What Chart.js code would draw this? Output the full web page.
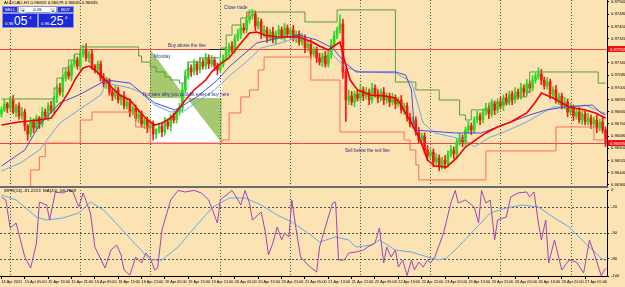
<!DOCTYPE html>
<html><head><meta charset="utf-8">
<script src="https://cdn.jsdelivr.net/npm/chart.js@4.4.1/dist/chart.umd.min.js"></script>
<style>
html,body{margin:0;padding:0;}
body{width:625px;height:287px;position:relative;overflow:hidden;background:#FCE3B4;font-family:"Liberation Sans",Arial,sans-serif;}
canvas{position:absolute;left:0;}
#c1{top:0}
#c2{top:187px}
#sep{position:absolute;left:0;top:186px;width:608px;height:2px;background:#6b6b6b;}
#title{position:absolute;left:4px;top:0px;font-size:4.4px;color:#000;white-space:nowrap;line-height:6px;}
#subt{position:absolute;left:4px;top:188px;font-size:4.4px;color:#000;white-space:nowrap;line-height:6px;}
#ocp{position:absolute;left:2px;top:6px;width:72px;height:22px;}
.b{position:absolute;box-sizing:border-box;color:#fff;font-size:4.4px;text-align:center;line-height:6px;height:7px;background:#2A36CC;border:0.5px solid #8d94e6;}
.lot{position:absolute;box-sizing:border-box;background:#fff;height:7px;font-size:4.4px;line-height:6px;text-align:center;color:#000;border:0.5px solid #8d94e6;}
.ar{position:absolute;top:0.5px;width:5px;height:5px;background:#ddd;font-size:4px;line-height:5px;color:#333;}
.pb{position:absolute;box-sizing:border-box;height:15px;background:#1C2AD6;color:#fff;border:0.5px solid #8d94e6;}
.pb .s{position:absolute;left:2px;top:7px;font-size:4.4px;line-height:5px;}
.pb .g{position:absolute;left:11px;top:1px;font-size:12px;line-height:12px;}
.pb .u{position:absolute;left:26px;top:1px;font-size:4.4px;line-height:5px;}
</style></head><body>
<canvas id="c1" width="625" height="187"></canvas>
<canvas id="c2" width="625" height="100"></canvas>
<div id="sep"></div>
<div id="title">AUDCAD,H1 0.96655 0.96679 0.96605 0.96635</div>
<div id="ocp">
  <div class="b" style="left:0;top:0;width:16px;">SELL</div>
  <div class="lot" style="left:16px;top:0;width:39px;"><span class="ar" style="left:1px">▾</span>0.05<span class="ar" style="right:1px">▴</span></div>
  <div class="b" style="left:55px;top:0;width:17px;">BUY</div>
  <div class="pb" style="left:0;top:7px;width:36px;"><span class="s">0.96</span><span class="g">05</span><span class="u">4</span></div>
  <div class="pb" style="left:36px;top:7px;width:36px;"><span class="s">0.96</span><span class="g">25</span><span class="u">4</span></div>
</div>
<div id="subt">WPR(14) -91.2223 &nbsp;MA(20) -58.7868</div>
<script>
// ---------- DATA ----------
const timeLabels = ["14 Apr 2021","15 Apr 05:00","15 Apr 13:00","15 Apr 21:00","16 Apr 05:00","16 Apr 13:00","16 Apr 21:00","19 Apr 05:00","19 Apr 13:00","19 Apr 21:00","20 Apr 05:00","20 Apr 13:00","20 Apr 21:00","21 Apr 05:00","21 Apr 13:00","21 Apr 21:00","22 Apr 05:00","22 Apr 13:00","22 Apr 21:00","23 Apr 05:00","23 Apr 13:00","23 Apr 21:00","26 Apr 05:00","26 Apr 13:00","26 Apr 21:00","27 Apr 05:00"];
const labelBars = [0,8,16,24,32,40,48,56,64,72,80,88,96,104,112,120,128,136,144,152,160,168,176,184,192,200];
const daySeparatorBars = [3,27,51,75,99,123,147,171,195];
const priceTicks = [0.97560,0.97480,0.97400,0.97320,0.97240,0.97160,0.97080,0.97000,0.96920,0.96840,0.96760,0.96680,0.96600,0.96520,0.96440,0.96360];
const wprTicks = [0,-20,-50,-80,-100];
const wprLevels = [-20,-50,-80];

// H1 candles: first open, closes, and wick lengths in pips above / below the body
const firstOpen = 0.96825;
const closes = [
0.96851,0.96891,0.96865,0.96917,0.96838,0.96878,0.96812,0.96838,0.96746,0.96694,
0.96773,0.96733,0.96799,0.96760,0.96838,0.96812,0.96878,0.96851,0.96930,0.96996,
0.96969,0.97061,0.97101,0.97074,0.97153,0.97179,0.97140,0.97219,0.97245,0.97193,
0.97219,0.97140,0.97114,0.97153,0.97061,0.97022,0.97048,0.96969,0.96943,0.96983,
0.96917,0.96943,0.96878,0.96904,0.96838,0.96865,0.96799,0.96825,0.96760,0.96786,
0.96733,0.96760,0.96694,0.96720,0.96746,0.96707,0.96773,0.96746,0.96812,0.96786,
0.96838,0.96865,0.96983,0.97074,0.97127,0.97101,0.97153,0.97114,0.97166,0.97140,
0.97193,0.97153,0.97179,0.97140,0.97114,0.97153,0.97193,0.97232,0.97271,0.97245,
0.97324,0.97350,0.97389,0.97376,0.97442,0.97468,0.97481,0.97402,0.97429,0.97350,
0.97376,0.97324,0.97363,0.97311,0.97350,0.97376,0.97337,0.97389,0.97350,0.97376,
0.97324,0.97350,0.97297,0.97324,0.97258,0.97284,0.97219,0.97245,0.97193,0.97166,
0.97206,0.97153,0.97219,0.97284,0.97337,0.97376,0.97416,0.97101,0.96917,0.96943,
0.96904,0.96956,0.96930,0.96983,0.96943,0.96969,0.96917,0.96996,0.96956,0.96930,
0.96969,0.96917,0.96943,0.96904,0.96930,0.96891,0.96917,0.96851,0.96878,0.96799,
0.96760,0.96786,0.96707,0.96655,0.96681,0.96589,0.96550,0.96576,0.96510,0.96537,
0.96484,0.96523,0.96497,0.96563,0.96589,0.96563,0.96641,0.96668,0.96641,0.96720,
0.96746,0.96720,0.96786,0.96812,0.96786,0.96838,0.96865,0.96825,0.96891,0.96851,
0.96904,0.96878,0.96930,0.96904,0.96956,0.96917,0.96969,0.96943,0.96996,0.96969,
0.97022,0.96996,0.97048,0.97074,0.97088,0.97048,0.97009,0.97035,0.96956,0.96983,
0.96917,0.96943,0.96878,0.96904,0.96838,0.96865,0.96812,0.96838,0.96786,0.96825,
0.96773,0.96799,0.96760,0.96786,0.96733,0.96773,0.96720,0.96641];
const wickUpPips = [
2,3,1,2,3,1,2,3,2,1, 3,2,2,1,3,2,2,3,1,2, 3,2,2,4,2,3,2,2,3,4, 2,3,1,2,2,3,2,1,2,3,
2,1,3,2,2,1,2,3,2,1, 2,3,2,1,2,2,3,2,1,2, 2,3,4,3,4,2,3,2,3,2, 3,2,3,2,2,3,2,3,2,3,
2,3,2,3,2,4,3,2,3,2, 3,2,2,3,2,3,2,3,2,2, 3,2,2,3,2,2,3,2,2,3, 2,3,2,3,3,2,6,3,2,4,
3,2,3,4,2,3,2,3,2,3, 2,3,2,2,3,2,2,3,2,2, 3,2,2,3,2,2,3,2,2,3, 2,2,3,2,3,2,2,3,2,2,
3,2,2,3,2,2,3,2,3,2, 2,3,2,3,2,2,3,2,3,2, 3,2,3,2,4,3,2,3,2,2, 3,2,2,3,2,3,2,2,3,2,
2,3,2,2,3,2,3,2];
const wickDownPips = [
2,1,3,2,1,3,2,2,3,4, 2,3,2,3,2,2,3,2,2,3, 2,3,2,2,3,2,2,3,2,2, 3,2,2,3,2,2,3,2,3,2,
2,3,2,2,3,2,2,3,2,3, 3,2,4,3,2,3,2,2,3,2, 2,2,3,2,2,3,2,3,2,2, 2,3,2,3,3,2,2,2,3,2,
2,2,3,2,2,2,2,3,2,3, 2,3,2,2,3,2,2,3,2,3, 2,3,2,2,3,2,3,2,3,2, 3,2,2,3,2,2,2,4,14,3,
2,3,2,2,3,2,3,2,2,3, 2,3,2,3,2,3,2,2,3,2, 2,3,2,2,3,2,3,2,3,2, 3,2,3,2,2,3,2,2,3,2,
2,3,2,2,3,2,2,3,2,3, 2,2,3,2,2,3,2,2,2,3, 2,3,2,2,2,3,2,2,3,2, 2,3,2,2,3,2,3,2,2,3,
2,2,3,2,3,2,2,3];
const PIP = 0.0001;

const redBars = [0,6,13,17,20,23,25.5,28,30,32,35,38,40.5,44,47.5,50,52.5,55,58,60.5,63,66,70,72,74.5,78,81.5,85,87.5,90,94.5,99,102,106.5,109,112,114.5,116,117.5,119.5,122,126.5,131.5,135,136.5,140.5,143.5,146,148.5,152.5,156,159,162.5,166,170,174.5,180,183,185,189,194.5,200,203.5,207];
const redVals = [0.96753,0.96773,0.96786,0.96799,0.96878,0.96969,0.97061,0.97127,0.97140,0.97114,0.97061,0.96996,0.96950,0.96917,0.96838,0.96786,0.96753,0.96766,0.96799,0.96851,0.96917,0.96983,0.97048,0.97101,0.97147,0.97193,0.97278,0.97357,0.97363,0.97343,0.97330,0.97330,0.97330,0.97297,0.97271,0.97245,0.97278,0.97297,0.97179,0.97048,0.96983,0.96950,0.96943,0.96930,0.96898,0.96766,0.96655,0.96523,0.96484,0.96477,0.96537,0.96609,0.96655,0.96701,0.96740,0.96773,0.96832,0.96904,0.96963,0.96930,0.96871,0.96851,0.96832,0.96799];

const blueBars = [0,8,13,20,26.5,36,44,49,52.5,59.5,67,74,78,83.5,87.5,92,97,102,108,113.5,117.5,121.5,135,138.5,140.5,141.5,155.5,164.5,170,181,186.5,193,202.5,205.5,207];
const blueVals = [0.96484,0.96589,0.96753,0.96898,0.96950,0.97048,0.97028,0.96950,0.96898,0.96851,0.96937,0.97048,0.97134,0.97225,0.97291,0.97311,0.97330,0.97343,0.97311,0.97258,0.97166,0.97101,0.97101,0.97081,0.96983,0.96720,0.96701,0.96701,0.96740,0.96819,0.96851,0.96871,0.96884,0.96832,0.96820];

const lightBlueBars = [0,6.5,13,20,26.5,34,36,44,47.5,52.5,58,63,68,73,78.5,83.5,89,94.5,102,112,117.5,123,135,140.5,144.5,148.5,159,162,167.5,171.5,180,189,194.5,200,205.5,207];
const lightBlueVals = [0.96451,0.96504,0.96589,0.96766,0.96851,0.96950,0.97028,0.96996,0.96969,0.96884,0.96838,0.96851,0.96917,0.96983,0.97081,0.97160,0.97258,0.97284,0.97330,0.97245,0.97134,0.97101,0.97094,0.97035,0.96766,0.96701,0.96655,0.96609,0.96674,0.96701,0.96773,0.96871,0.96871,0.96884,0.96838,0.96830];

const upperBars = [0,18,19,21,23,25,27,47,48,51,53,56,58,61,63,64,68,75,77,79,82,84,104,115,135,142,150,157,159,161,167,174,180,181,204.5,207];
const upperVals = [0.96924,0.96996,0.97061,0.97127,0.97179,0.97219,0.97265,0.97206,0.97166,0.97134,0.97101,0.97068,0.97048,0.97028,0.97114,0.97166,0.97193,0.97258,0.97343,0.97409,0.97455,0.97494,0.97429,0.97508,0.97035,0.96983,0.96917,0.96819,0.96786,0.96852,0.96898,0.96937,0.96969,0.97101,0.97028,0.97028];

const lowerBars = [0,7,10,13,15,27,31,46,51,75.5,78,82,85,88,90,106,116,138,140,142,143,166,190,203,207];
const lowerVals = [0.96261,0.96327,0.96458,0.96545,0.96635,0.96786,0.96838,0.96740,0.96635,0.96655,0.96832,0.96937,0.96983,0.97114,0.97199,0.97048,0.96707,0.96655,0.96589,0.96491,0.96393,0.96583,0.96740,0.96655,0.96655];

const hLinePrices = [0.97252,0.96635];

const wprBars = [0,1.5,3,5,8,10,12,13,15.5,16.5,18.5,21,23,24.5,26.5,28,30.5,32,35.5,37.5,39.5,41,42,44,46,48,49.5,51,52.5,53.5,55,58,60.5,63,66,68.5,71,74,75,79,80.5,82,83.5,85,86,89,90.5,91.5,93,94.5,96,97,98.5,99.5,101,102.5,105,108,109,112,113.5,114.5,115.5,117.5,119,121.5,124,125.5,128,129.5,131,132,133.5,135,136,137.5,139,140.5,141.5,143,144.5,146,147,148.5,151.5,154,155.5,156.5,159,162,163.5,164.5,166,167.5,169,170,173,174.5,177,180,181,182.5,184,185,186.5,187.5,189.5,192,194.5,197,199.5,201.5,203.5,205.5,207];
const wprVals = [-8.1,-11.6,-44.2,-38.4,-77.9,-90.7,-61.6,-14.0,-17.4,-34.9,-2.3,-3.5,-0.5,-2.3,-19.8,-3.5,-26.7,-66.3,-90.7,-69.8,-64.0,-75.6,-93.0,-98.9,-77.9,-84.9,-73.3,-79.1,-93.0,-90.7,-46.5,-11.6,-0.5,-2.3,-0.5,-3.5,-11.6,-38.4,-11.6,-0.5,-8.1,-17.4,-0.5,-15.1,-34.9,-25.6,-50.0,-75.6,-61.6,-43.0,-58.1,-50.0,-54.7,-11.6,-46.5,-77.9,-87.2,-95.4,-66.3,-31.4,-15.1,-14.0,-81.4,-81.4,-73.3,-72.1,-69.8,-66.3,-61.6,-44.2,-84.9,-66.3,-77.9,-69.8,-89.6,-81.4,-99.5,-81.4,-93.0,-83.7,-89.6,-81.4,-84.9,-77.9,-50.0,-15.1,-0.5,-15.1,-11.6,-19.8,-38.4,-0.5,-15.1,-11.6,-58.1,-34.9,-31.4,-8.1,-3.5,-2.3,-8.1,-2.3,-38.4,-58.1,-34.9,-84.9,-58.1,-93.0,-81.4,-83.7,-96.5,-58.1,-77.9,-99.5,-91.2];

const maBars = [0,5,12,15.5,21,26.5,30.5,35,40.5,45.5,51,55,60.5,67.5,72.5,78,83.5,89,94.5,99.5,105,109,114.5,119,121.5,127,129.5,135,140.5,146,150,152.5,156.5,162,167.5,173,178.5,184,189,194.5,200,205.5,207];
const maVals = [-5.8,-11.6,-31.4,-34.9,-32.6,-26.7,-14.0,-23.3,-43.0,-61.6,-81.4,-81.4,-66.3,-38.4,-19.8,-9.3,-9.3,-17.4,-29.1,-37.2,-50.0,-60.5,-54.7,-58.1,-66.3,-64.0,-58.1,-69.8,-72.1,-77.9,-81.4,-79.1,-66.3,-46.5,-26.7,-20.9,-17.4,-19.8,-31.4,-43.0,-61.6,-79.1,-82.0];

// objects drawn by the trader (anchored on bar / price)
const boxBars = [50.9, 75.5];
const boxPrices = [0.96635, 0.97252];
const tri1Bars = [50.9, 50.9, 63.2];
const tri1Prices = [0.97252, 0.96930, 0.96930];
const tri2Bars = [63.6, 75.5, 75.5];
const tri2Prices = [0.96930, 0.96930, 0.96635];
const noteTexts = ["Close trade","Buy above the line","Monday","Not sure why you couldnt enter a buy here","Sell below the red line"];
const noteBars = [76.3, 57.1, 52.3, 48.5, 117.7];
const notePrices = [0.97521, 0.97271, 0.97199, 0.96950, 0.96583];
const darkSegBars = [71.1, 76.6];
const arrowBar = 84.5;
const arrowPrices = [0.97494, 0.97455];

// ---------- BUILD ----------
const FONT = '"Liberation Sans", Arial, sans-serif';
const pts = (xs, ys) => xs.map((x, i) => ({x, y: ys[i]}));
const opens = closes.map((c, i) => i ? closes[i-1] : firstOpen);
const bodies = closes.map((c, i) => ({x: i, y: [opens[i], c]}));
const wicks = closes.map((c, i) => ({x: i, y: [Math.min(opens[i], c) - wickDownPips[i]*PIP, Math.max(opens[i], c) + wickUpPips[i]*PIP]}));
const BULL = '#22DD22', BEAR = '#FF1414';
const candleColor = c => (c.dataIndex != null && closes[c.dataIndex] >= opens[c.dataIndex]) ? BULL : BEAR;
const yMin = 0.96353, yMax = 0.97573;
const XMIN = -0.5, XMAX = 207.5;

const fixRightAxis = s => { s.width = 18; s.paddingTop = 0; s.paddingBottom = 0; };

const mainDeco = {
  id: 'mainDeco',
  beforeDatasetsDraw(chart) {
    const {ctx, chartArea: a, scales: {x, y}} = chart;
    const X = v => x.getPixelForValue(v), Y = v => y.getPixelForValue(v);
    ctx.save();
    ctx.beginPath(); ctx.rect(a.left, a.top, a.right - a.left, a.bottom - a.top); ctx.clip();
    ctx.fillStyle = '#ffffff';
    ctx.fillRect(X(boxBars[0]), Y(boxPrices[1]), X(boxBars[1]) - X(boxBars[0]), Y(boxPrices[0]) - Y(boxPrices[1]));
    ctx.fillStyle = '#A6C86F';
    [[tri1Bars, tri1Prices], [tri2Bars, tri2Prices]].forEach(([bs, ps]) => {
      ctx.beginPath();
      bs.forEach((b, i) => i ? ctx.lineTo(X(b), Y(ps[i])) : ctx.moveTo(X(b), Y(ps[i])));
      ctx.closePath(); ctx.fill();
    });
    ctx.strokeStyle = '#505050'; ctx.lineWidth = 1; ctx.setLineDash([1, 2]);
    daySeparatorBars.forEach(b => {
      const px = Math.round(X(b)) + 0.5;
      ctx.beginPath(); ctx.moveTo(px, a.top); ctx.lineTo(px, a.bottom); ctx.stroke();
    });
    ctx.setLineDash([]);
    ctx.strokeStyle = '#F2453A';
    hLinePrices.forEach(p => {
      const py = Math.round(Y(p)) + 0.5;
      ctx.beginPath(); ctx.moveTo(a.left, py); ctx.lineTo(a.right, py); ctx.stroke();
    });
    ctx.strokeStyle = '#202020';
    const dy = Math.round(Y(hLinePrices[0])) + 0.5;
    ctx.beginPath(); ctx.moveTo(X(darkSegBars[0]), dy); ctx.lineTo(X(darkSegBars[1]), dy); ctx.stroke();
    ctx.restore();
  },
  afterDatasetsDraw(chart) {
    const {ctx, scales: {x, y}} = chart;
    const X = v => x.getPixelForValue(v), Y = v => y.getPixelForValue(v);
    ctx.save();
    ctx.font = '4.6px ' + FONT;
    ctx.fillStyle = '#2E2E7E'; ctx.textAlign = 'left'; ctx.textBaseline = 'middle';
    noteTexts.forEach((t, i) => ctx.fillText(t, X(noteBars[i]), Y(notePrices[i])));
    const ax = X(arrowBar), y0 = Y(arrowPrices[0]), y1 = Y(arrowPrices[1]);
    ctx.fillStyle = '#F07A66';
    ctx.fillRect(ax - 0.5, y0, 1.5, y1 - y0 - 2);
    ctx.beginPath(); ctx.moveTo(ax - 2, y1 - 3); ctx.lineTo(ax + 2.5, y1 - 3); ctx.lineTo(ax + 0.25, y1); ctx.closePath(); ctx.fill();
    ctx.restore();
  },
  afterDraw(chart) {
    const {ctx, chartArea: a, scales: {y}} = chart;
    ctx.save();
    ctx.font = '4.2px ' + FONT; ctx.textBaseline = 'middle'; ctx.textAlign = 'left';
    hLinePrices.forEach(p => {
      const py = Math.round(y.getPixelForValue(p));
      ctx.fillStyle = '#EE1111'; ctx.fillRect(a.right + 1, py - 3, chart.width - a.right - 1, 6);
      ctx.fillStyle = '#ffffff'; ctx.fillText(p.toFixed(5), a.right + 3, py + 0.5);
    });
    ctx.restore();
  }
};

const subDeco = {
  id: 'subDeco',
  beforeDatasetsDraw(chart) {
    const {ctx, chartArea: a, scales: {x, y}} = chart;
    ctx.save();
    ctx.strokeStyle = '#505050'; ctx.lineWidth = 1; ctx.setLineDash([1, 2]);
    daySeparatorBars.forEach(b => {
      const px = Math.round(x.getPixelForValue(b)) + 0.5;
      ctx.beginPath(); ctx.moveTo(px, a.top - 3); ctx.lineTo(px, a.bottom); ctx.stroke();
    });
    ctx.setLineDash([2, 2]);
    wprLevels.forEach(v => {
      const py = Math.round(y.getPixelForValue(v)) + 0.5;
      ctx.beginPath(); ctx.moveTo(a.left, py); ctx.lineTo(a.right, py); ctx.stroke();
    });
    ctx.restore();
  }
};

const line = (data, color, width, order, extra) => Object.assign({type: 'line', data, borderColor: color, borderWidth: width, pointRadius: 0, tension: 0, order, fill: false}, extra || {});

new Chart(document.getElementById('c1'), {
  type: 'bar',
  data: { datasets: [
    line(pts(redBars, redVals), '#F20000', 1.6, 1),
    line(pts(blueBars, blueVals), '#4A4ADB', 1, 2),
    line(pts(lightBlueBars, lightBlueVals), '#6FA7E4', 1, 3),
    line(pts(upperBars, upperVals), '#55A03C', 1, 4, {stepped: true}),
    line(pts(lowerBars, lowerVals), '#FF6C58', 1, 5, {stepped: true}),
    { type: 'bar', data: bodies, order: 10, grouped: false, barThickness: 2, minBarLength: 1, backgroundColor: candleColor },
    { type: 'bar', data: wicks, order: 11, grouped: false, barThickness: 1, backgroundColor: candleColor }
  ]},
  options: {
    responsive: false, animation: false, events: [],
    layout: { padding: {top: 0, bottom: 1, left: 0, right: 0} },
    plugins: { legend: {display: false}, tooltip: {enabled: false} },
    scales: {
      x: { type: 'linear', min: XMIN, max: XMAX, offset: false, display: false, grid: {offset: false} },
      y: { position: 'right', min: yMin, max: yMax,
        afterBuildTicks: s => { s.ticks = priceTicks.map(v => ({value: v})); },
        afterFit: fixRightAxis,
        ticks: { autoSkip: false, font: {size: 4.2, family: FONT}, color: '#000', padding: 2, callback: v => Number(v).toFixed(5) },
        grid: { drawOnChartArea: false, drawTicks: true, tickLength: 2, color: '#000' },
        border: { display: true, color: '#000', width: 1 } }
    }
  },
  plugins: [mainDeco]
});

new Chart(document.getElementById('c2'), {
  type: 'line',
  data: { datasets: [
    line(pts(maBars, maVals), '#64AAE8', 1, 2),
    line(pts(wprBars, wprVals), '#A144B4', 1, 1)
  ]},
  options: {
    responsive: false, animation: false, events: [],
    layout: { padding: {top: 3, bottom: 0, left: 0, right: 0} },
    plugins: { legend: {display: false}, tooltip: {enabled: false} },
    scales: {
      x: { type: 'linear', min: XMIN, max: XMAX, offset: false,
        afterBuildTicks: s => { s.ticks = labelBars.map(v => ({value: v})); },
        afterFit: s => { s.height = 11; s.paddingLeft = 0; s.paddingRight = 0; },
        ticks: { autoSkip: false, maxRotation: 0, minRotation: 0, align: 'start', font: {size: 3.8, family: FONT}, color: '#000', padding: 1,
          callback: (v, i) => timeLabels[i] },
        grid: { drawOnChartArea: false, drawTicks: true, tickLength: 3, color: '#000' },
        border: { display: true, color: '#000', width: 1 } },
      y: { position: 'right', min: -100, max: 0,
        afterBuildTicks: s => { s.ticks = wprTicks.map(v => ({value: v})); },
        afterFit: fixRightAxis,
        ticks: { autoSkip: false, font: {size: 4.2, family: FONT}, color: '#000', padding: 2 },
        grid: { drawOnChartArea: false, drawTicks: true, tickLength: 2, color: '#000' },
        border: { display: true, color: '#000', width: 1 } }
    }
  },
  plugins: [subDeco]
});
</script>
</body></html>
